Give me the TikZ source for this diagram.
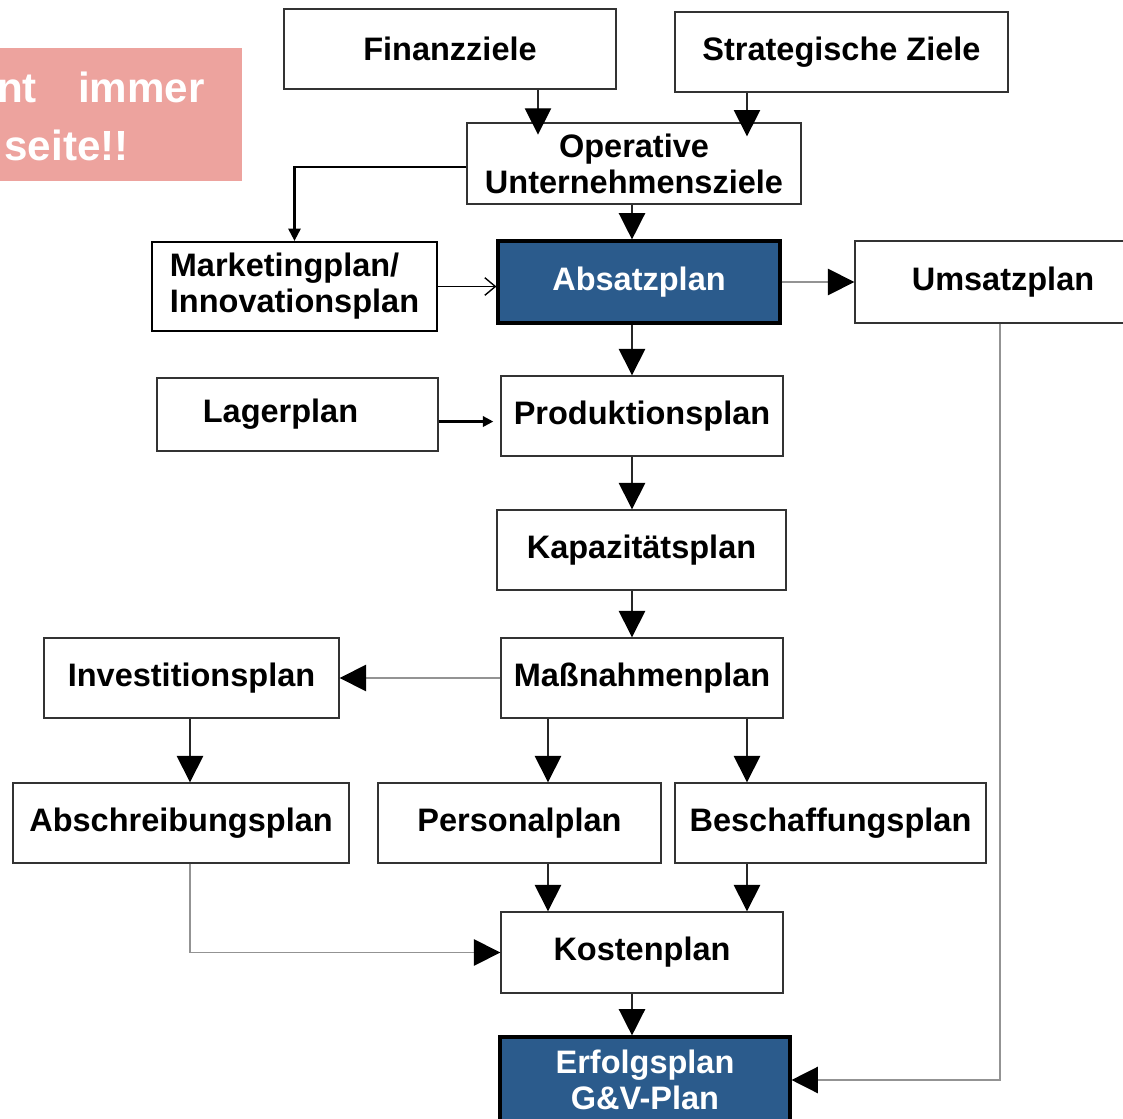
\documentclass[tikz,border=0pt]{standalone}
\usepackage{fontspec}
\setmainfont{Liberation Sans}
\usetikzlibrary{arrows.meta, positioning}
\definecolor{planblue}{HTML}{2B5B8C}
\definecolor{notepink}{HTML}{EDA39E}

\begin{document}
\begin{tikzpicture}[x=0.02cm, y=-0.02cm, font=\bfseries\fontsize{18.5}{20.5}\selectfont,
  plan/.style={draw=black!80, line width=0.8pt, minimum height=1.6cm, inner sep=2pt, align=center},
  keyplan/.style={plan, draw=black, line width=1.8pt, fill=planblue, text=white},
  flow/.style={draw=black!85, line width=0.8pt, -{Triangle[length=15pt, width=15pt, color=black]}},
  grayflow/.style={flow, draw=gray!85}]
\useasboundingbox (0,0) rectangle (1123,1119);

% hint box, cut at the left border
\node[fill=notepink, minimum width=4.84cm, minimum height=2.66cm, inner sep=0pt] (note) at (121,114.5) {};
\begin{scope}[font=\bfseries\fontsize{24}{27}\selectfont, text=white]
\node[anchor=base east, inner sep=0pt] (noteA) at (205,102) {nt\ \hspace{0.7em}immer};
\node[anchor=base east, inner sep=0pt] (noteB) at (129,160) {seite!!};
\end{scope}

% targets
\node[plan, minimum width=6.64cm] (fin) at (450,49) {Finanzziele};
\node[plan, minimum width=6.66cm] (strat) at (841.5,52) {Strategische Ziele};
\node[plan, minimum width=6.68cm, minimum height=1.62cm] (ops) at (634,163.5) {Operative\\Unternehmensziele};

% plans
\node[plan, draw=black, line width=1.3pt, minimum width=5.7cm, minimum height=1.78cm, align=left] (mkt) at (294.5,286.5) {Marketingplan/\\Innovationsplan};
\node[keyplan, minimum width=5.64cm, minimum height=1.64cm] (abs) at (639,282) {Absatzplan};
\node[plan, minimum width=5.92cm, minimum height=1.64cm] (ums) at (1003,282) {Umsatzplan};
\node[plan, minimum width=5.62cm, minimum height=1.46cm] (lag) at (297.5,414.5) {\hspace*{-0.68cm}Lagerplan};
\node[plan, minimum width=5.64cm] (prod) at (642,416) {Produktionsplan};
\node[plan, minimum width=5.78cm] (kap) at (641.5,550) {Kapazitätsplan};
\node[plan, minimum width=5.64cm] (mass) at (642,678) {Maßnahmenplan};
\node[plan, minimum width=5.9cm] (inv) at (191.5,678) {Investitionsplan};
\node[plan, minimum width=6.72cm] (absch) at (181,823) {Abschreibungsplan};
\node[plan, minimum width=5.66cm] (pers) at (519.5,823) {Personalplan};
\node[plan, minimum width=6.22cm] (besch) at (830.5,823) {Beschaffungsplan};
\node[plan, minimum width=5.64cm, minimum height=1.62cm] (kost) at (642,952.5) {Kostenplan};
\node[keyplan, minimum width=5.8cm, minimum height=1.72cm] (erf) at (645,1080) {Erfolgsplan\\G\&V-Plan};

% columns of the vertical arrows
\coordinate (spine) at (632,0);
\coordinate (colfin) at (538,0);
\coordinate (colright) at (747,0);
\coordinate (colleft) at (190,0);
\coordinate (colmid) at (548,0);
\coordinate (colums) at (1000,0);

\draw[flow, shorten >=-7pt] (fin.south -| colfin) -- (ops.north -| colfin);
\draw[flow, shorten >=-8pt] (strat.south -| colright) -- (ops.north -| colright);
\draw[flow] (ops.south -| spine) -- (abs.north -| spine);
\draw[draw=black, line width=1.2pt, -{Triangle[length=7pt, width=7pt]}] ([yshift=-2pt]ops.west) -| (mkt.north);
\draw[line width=0.8pt, -{Straight Barb[length=6pt, width=10pt]}] (mkt.east) -- (mkt.east -| abs.west);
\draw[grayflow] (abs.east) -- (ums.west);
\draw[flow] (abs.south -| spine) -- (prod.north -| spine);
\draw[line width=1.3pt, -{Triangle[length=6pt, width=6pt]}, shorten >=4pt] ([yshift=-4pt]lag.east) -- ([yshift=-4pt]lag.east -| prod.west);
\draw[flow] (prod.south -| spine) -- (kap.north -| spine);
\draw[flow] (kap.south -| spine) -- (mass.north -| spine);
\draw[grayflow] (mass.west) -- (inv.east);
\draw[flow] (inv.south -| colleft) -- (absch.north -| colleft);
\draw[flow] (mass.south -| colmid) -- (pers.north -| colmid);
\draw[flow] (mass.south -| colright) -- (besch.north -| colright);
\draw[flow] (pers.south -| colmid) -- (kost.north -| colmid);
\draw[flow] (besch.south -| colright) -- (kost.north -| colright);
\draw[grayflow] (absch.south -| colleft) |- (kost.west);
\draw[flow] (kost.south -| spine) -- (erf.north -| spine);
\draw[grayflow] (ums.south -| colums) |- (erf.east);
\end{tikzpicture}
\end{document}
